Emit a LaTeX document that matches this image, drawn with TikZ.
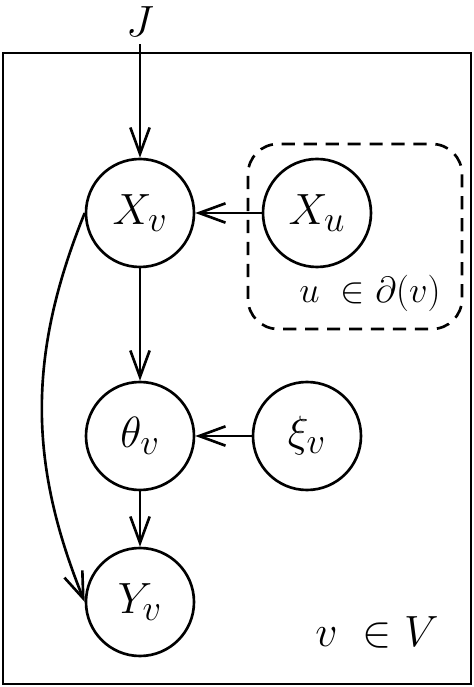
\documentclass[tikz,border=0pt]{standalone}
\usepackage{amsmath, amssymb}
\usepackage{tikz}
\usetikzlibrary{arrows.meta}

\begin{document}
\begin{tikzpicture}[line width=1.5pt,
		rv/.style={circle,draw,minimum size=2.16cm,inner sep=0pt,font=\Huge},
		arr/.style={-{Straight Barb[length=15pt,width=11pt,line width=1.5pt]}}]
			
			\useasboundingbox (0,0) rectangle (9.48,13.74);
			
			% plate over v
			\draw (0.06,0.06) rectangle (9.42,12.68);
			\node[font=\Huge] (vlab) at (7.54,1.10) {$v\ \in V$};
			
			% plate over the neighbours u
			\draw[dash pattern=on 7.5pt off 5pt,rounded corners=0.6cm] (4.96,7.16) rectangle (9.24,10.86);
			\node[font=\huge] (ulab) at (7.40,7.88) {$u\ \in \partial(v)$};
			
			\node[font=\Huge] (J) at (2.8,13.30) {$J$};
			\node[rv] (Xv) at (2.8,9.48) {$X_v$};
			\node[rv] (Xu) at (6.34,9.48) {$X_u$};
			\node[rv] (thv) at (2.8,5.02) {$\theta_v$};
			\node[rv] (xiv) at (6.14,5.02) {$\xi_v$};
			\node[rv] (Yv) at (2.8,1.70) {$Y_v$};
			
			\draw[arr] (J) -- (Xv);
			\draw[arr] (Xu) -- (Xv);
			\draw[arr] (Xv) -- (thv);
			\draw[arr] (xiv) -- (thv);
			\draw[arr] (thv) -- (Yv);
			\draw[arr] (Xv.west) to[bend right=22] (Yv.west);
			
\end{tikzpicture}
\end{document}
